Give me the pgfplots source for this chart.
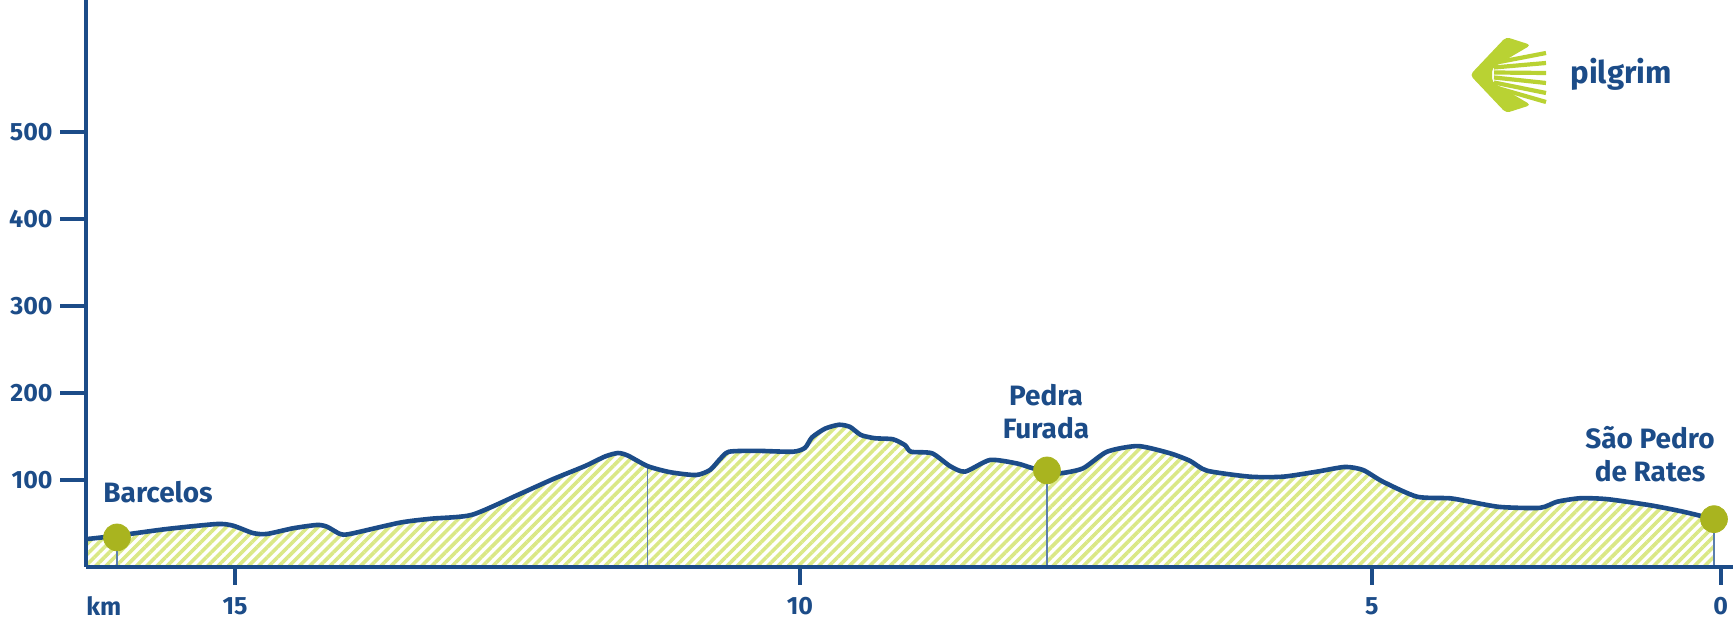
\documentclass[border=0pt]{standalone}
\usepackage{fontspec}
\setmainfont{Fira Sans}
\usepackage{pgfplots}
\pgfplotsset{compat=1.18}
\usetikzlibrary{patterns.meta}
\definecolor{route}{HTML}{1C4C88}
\definecolor{stripe}{HTML}{DAE886}
\definecolor{stop}{HTML}{A9B41F}
\definecolor{shell}{HTML}{B9D233}
\definecolor{guide}{HTML}{5A7FAE}

% elevation profile, x in drawing units (km ticks are placed by hand), y in m
\pgfplotstableread{
x y
86 32
117 36
167 43.7
217 49.4
233 47.5
253 39
267 38
293 44.5
317 48.3
327 46.3
340 38
350 38
400 51
431 55.5
472 60
520 84
553 101
585 116
605 127
618 131
628 128
647.5 116
670 109
696 105.7
710 111.5
720 124
729 132.5
757 133.5
793 132.5
805 137
812 149
825 159
839 163.5
850 161
861 151.7
875 148
893 146.8
905 140
911 132.5
932 130.7
950 116
965 109.6
990 123
1017 119
1033 113.4
1047 110.5
1060 107.7
1083 113.4
1107 132.5
1138 139
1170 130.7
1190 122
1207 110.7
1250 103.8
1283 103.8
1317 109.6
1345 115
1363 111.5
1383 98
1417 80.8
1450 79
1470 75
1500 69
1540 68
1557 75
1580 79
1607 78
1650 71
1683 63.6
1714 55
}\profile

\begin{document}
\begin{tikzpicture}
\path[use as bounding box] (0,0) rectangle (867pt,310.5pt);
\begin{axis}[
  at={(43pt,27pt)}, anchor=south west,
  scale only axis, width=823.5pt, height=283.5pt,
  xmin=86, xmax=1733, ymin=0, ymax=651.7,
  axis lines*=left,
  axis line style={route, line width=2.2pt},
  axis on top, clip=false,
  xtick={235,800,1371.7,1720.7},
  xticklabels={15,10,5,0},
  ytick={100,200,300,400,500},
  minor tick num=0,
  tick align=outside,
  major tick length=13pt,
  tick style={route, line width=2.2pt},
  xtick style={/pgfplots/major tick length=9pt},
  /pgf/number format/assume math mode=true,
  tick label style={font=\fontsize{12.5}{14}\selectfont\bfseries, text=route, inner sep=0pt},
  yticklabel style={xshift=-3.5pt},
  xticklabel style={yshift=-2pt},
]
\addplot[draw=none, pattern={Lines[angle=45, distance=3.6pt, line width=1.8pt]},
  pattern color=stripe, smooth, tension=0.4] table {\profile} \closedcycle;

\addplot[guide, line width=0.8pt] coordinates {(117,0) (117,34)};
\addplot[guide, line width=0.8pt] coordinates {(647.5,0) (647.5,116)};
\addplot[guide, line width=0.8pt] coordinates {(1047,0) (1047,111)};
\addplot[guide, line width=0.8pt] coordinates {(1714,0) (1714,55)};

\addplot[route, line width=2.3pt, smooth, tension=0.4] table {\profile};

\addplot[only marks, mark=*, mark size=6.7pt, mark options={fill=stop, draw=stop}]
  coordinates {(117,34) (1047,111) (1714,55)};

\begin{scope}[font=\fontsize{14}{16.5}\selectfont\bfseries, text=route, inner sep=0pt]
\node[anchor=west] at (axis cs:103,86.6) {Barcelos};
\node[align=center] at (axis cs:1046,178.5) {Pedra\\Furada};
\node[align=center] at (axis cs:1650,129.9) {São Pedro\\de Rates};
\end{scope}
\end{axis}

% labels and logo, in picture pixels measured from the top left
\begin{scope}[x=0.5pt, y=-0.5pt, shift={(0pt,310.5pt)}]
\node[anchor=north west, inner sep=0pt, text=route,
  font=\fontsize{12.5}{14}\selectfont\bfseries] at (86,596) {km};
\fill[shell, rounded corners=2pt] (1506,37) -- (1531,45) -- (1492,68) -- (1492,82)
  -- (1531,105) -- (1506,113) -- (1470,75) -- cycle;
\foreach \yl/\yr in {63/53, 67.5/63, 72.5/73, 77.5/83, 82.5/93, 87/102}
  \draw[shell, line width=2.1pt] (1494,\yl) -- (1546,\yr);
\node[anchor=base west, inner sep=0pt, text=route,
  font=\fontsize{15.6}{18}\selectfont\bfseries] at (1570,84) {pilgrim};
\end{scope}
\end{tikzpicture}
\end{document}
